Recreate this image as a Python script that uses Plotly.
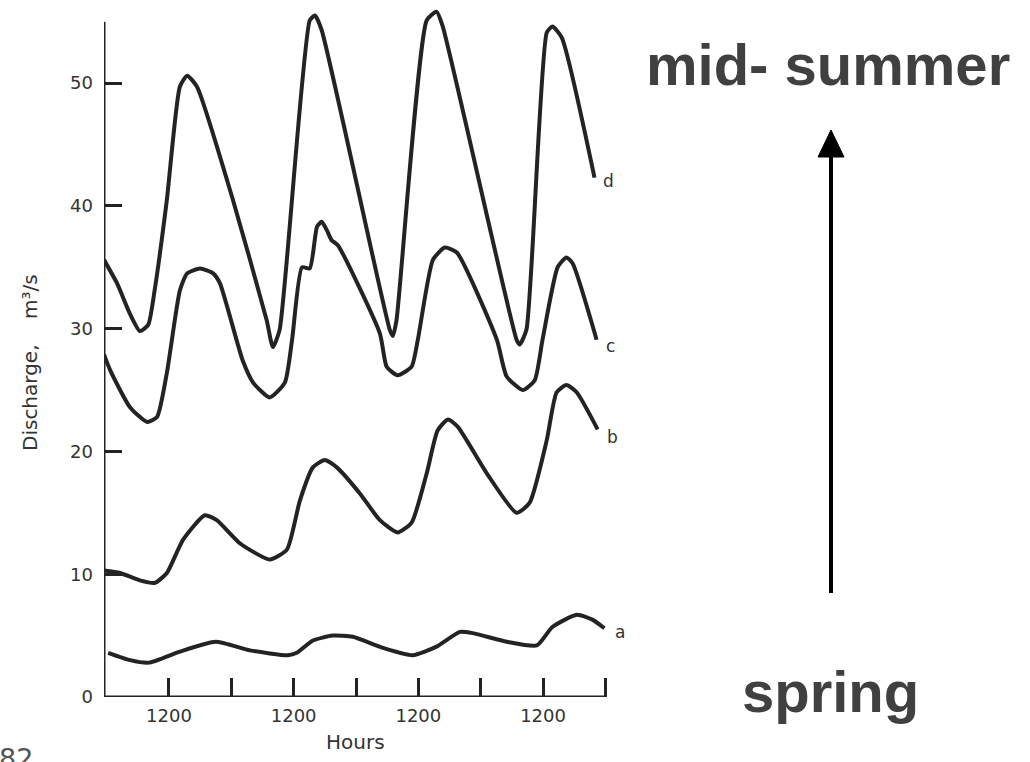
import plotly.graph_objects as go

# ---------------- data (hours from midnight of day 1, discharge m3/s) ----------------
hours_d = [-0.5, 2.0, 4.5, 6.4, 8.0, 9.2, 11.6, 14.1, 15.5, 17.4, 24.3, 30.8, 32.0, 33.3, 39.1, 40.1, 41.4,
           54.5, 55.1, 55.8, 61.6, 63.5, 64.7, 78.9, 79.5, 80.8, 84.7, 85.8, 87.6, 93.9]
flow_d = [35.6, 33.7, 31.2, 29.8, 30.3, 33.0, 40.5, 49.7, 50.6, 49.7, 40.5, 30.7, 28.5, 29.9, 55.1, 55.5, 54.3,
          29.9, 29.4, 30.7, 55.1, 55.8, 54.6, 29.1, 28.7, 29.9, 54.1, 54.6, 53.7, 42.3]

hours_c = [-0.5, 0.7, 4.5, 7.8, 9.7, 11.6, 14.1, 15.5, 18.0, 20.5, 21.8, 26.2, 28.2, 31.4, 34.3, 35.7,
           37.6, 39.1, 40.5, 41.4, 42.4, 43.3, 44.5, 52.6, 53.9, 56.0, 58.7, 59.9, 62.8, 65.1, 67.4,
           75.1, 77.0, 80.1, 82.4, 83.9, 86.8, 88.5, 89.7, 94.3]
flow_c = [27.9, 26.6, 23.6, 22.4, 22.8, 26.4, 33.1, 34.5, 34.9, 34.5, 33.7, 27.4, 25.6, 24.4, 25.6, 29.1,
          35.0, 34.9, 38.3, 38.7, 38.0, 37.2, 36.8, 29.6, 26.9, 26.2, 26.9, 29.1, 35.6, 36.6, 36.2,
          29.1, 26.1, 25.0, 25.8, 29.1, 35.0, 35.8, 35.3, 29.1]

hours_b = [-0.5, 2.6, 6.4, 9.3, 11.6, 14.7, 18.9, 21.2, 25.7, 31.4, 34.7, 37.2, 39.7, 42.0, 44.3, 48.7,
           52.6, 56.0, 58.7, 61.6, 63.7, 65.7, 67.6, 73.2, 78.9, 81.4, 84.7, 86.6, 88.5, 90.5, 94.5]
flow_b = [10.3, 10.1, 9.5, 9.3, 10.1, 12.8, 14.8, 14.4, 12.5, 11.2, 12.0, 16.0, 18.7, 19.3, 18.7, 16.6,
          14.4, 13.4, 14.2, 18.2, 21.7, 22.6, 22.0, 18.2, 15.0, 15.8, 20.9, 24.8, 25.4, 24.8, 21.8]

hours_a = [0.3, 4.5, 8.2, 14.1, 21.0, 27.6, 34.9, 36.6, 39.7, 43.5, 47.4, 53.2, 58.9, 63.5, 68.0, 70.5,
           77.0, 82.8, 85.8, 90.5, 93.5, 95.8]
flow_a = [3.6, 3.0, 2.8, 3.7, 4.5, 3.8, 3.4, 3.6, 4.6, 5.0, 4.9, 4.0, 3.4, 4.1, 5.3, 5.2,
          4.5, 4.2, 5.7, 6.7, 6.3, 5.6]

curve_names = ["a", "b", "c", "d"]
x_tick_vals = [12, 24, 36, 48, 60, 72, 84, 96]
x_tick_text = ["1200", "", "1200", "", "1200", "", "1200", ""]
y_tick_vals = [0, 10, 20, 30, 40, 50]
y_tick_text = ["0", "10", "20", "30", "40", "50"]
x_axis_start, x_axis_end = -0.5, 96
y_axis_top = 55

# ---------------- layout geometry (pixels) ----------------
W, H = 1030, 762
L, R, T, B = 104, 409, 2, 65
PW, PH = W - L - R, H - T - B


def px_x(px):
    return (px - L) / PW


def px_y(py):
    return (H - B - py) / PH


INK = "#232323"
TXT = "#333333"
FONT = "DejaVu Sans"

fig = go.Figure()
series = {"a": (hours_a, flow_a), "b": (hours_b, flow_b), "c": (hours_c, flow_c), "d": (hours_d, flow_d)}
for name in curve_names:
    hx, fy = series[name]
    fig.add_trace(go.Scatter(x=hx, y=fy, mode="lines", name=name,
                             line=dict(color=INK, width=4, shape="spline", smoothing=0.55),
                             hoverinfo="x+y"))

# axis lines
fig.add_shape(type="line", x0=x_axis_start, x1=x_axis_end, y0=0, y1=0, xref="x", yref="y",
              line=dict(color=INK, width=3))
fig.add_shape(type="line", x0=x_axis_start, x1=x_axis_start, y0=0, y1=y_axis_top, xref="x", yref="y",
              line=dict(color=INK, width=3))

# arrow (spring -> mid-summer)
fig.add_shape(type="line", xref="paper", yref="paper", x0=px_x(831), x1=px_x(831), y0=px_y(593), y1=px_y(150),
              line=dict(color="black", width=4))
fig.add_shape(type="path", xref="paper", yref="paper",
              path=f"M {px_x(818)},{px_y(157)} L {px_x(844)},{px_y(157)} L {px_x(831)},{px_y(130)} Z",
              fillcolor="black", line=dict(color="black", width=1))

annotations = [
    dict(text="mid- summer", x=px_x(828), y=px_y(64), xanchor="center", yanchor="middle",
         font=dict(family="Liberation Sans", size=58, color="#404040", weight="bold")),
    dict(text="spring", x=px_x(830), y=px_y(691), xanchor="center", yanchor="middle",
         font=dict(family="Liberation Sans", size=58, color="#404040", weight="bold")),
    dict(text="Discharge,    m³/s", x=px_x(30), y=px_y(363), textangle=-90, xanchor="center", yanchor="middle",
         font=dict(family=FONT, size=20, color=TXT)),
    dict(text="Hours", x=px_x(355), y=px_y(742), xanchor="center", yanchor="middle",
         font=dict(family=FONT, size=20, color=TXT)),
    dict(text="82", x=px_x(-3), y=px_y(741), xanchor="left", yanchor="top",
         font=dict(family=FONT, size=27, color="#555555")),
]
label_pos = {"d": (608, 181), "c": (610, 346), "b": (612, 437), "a": (620, 632)}
for name in curve_names:
    lx, ly = label_pos[name]
    annotations.append(dict(text=name, x=px_x(lx), y=px_y(ly), xanchor="center", yanchor="middle",
                            font=dict(family=FONT, size=17, color=TXT)))
for a in annotations:
    a.update(xref="paper", yref="paper", showarrow=False)

fig.update_layout(
    width=W, height=H, autosize=False,
    margin=dict(l=L, r=R, t=T, b=B, pad=0),
    paper_bgcolor="white", plot_bgcolor="white",
    showlegend=False,
    annotations=annotations,
    xaxis=dict(range=[-0.5, 99], showgrid=False, zeroline=False, showline=False,
               tickvals=x_tick_vals, ticktext=x_tick_text, ticks="inside", ticklen=19, tickwidth=2.5,
               tickcolor=INK, ticklabelstandoff=6, tickfont=dict(family=FONT, size=18, color=TXT)),
    yaxis=dict(range=[0, 56.6], showgrid=False, zeroline=False, showline=False,
               tickvals=y_tick_vals, ticktext=y_tick_text, ticks="inside", ticklen=18, tickwidth=2.5,
               tickcolor=INK, ticklabelstandoff=10, tickfont=dict(family=FONT, size=18, color=TXT)),
)

fig.write_html("out.html")
